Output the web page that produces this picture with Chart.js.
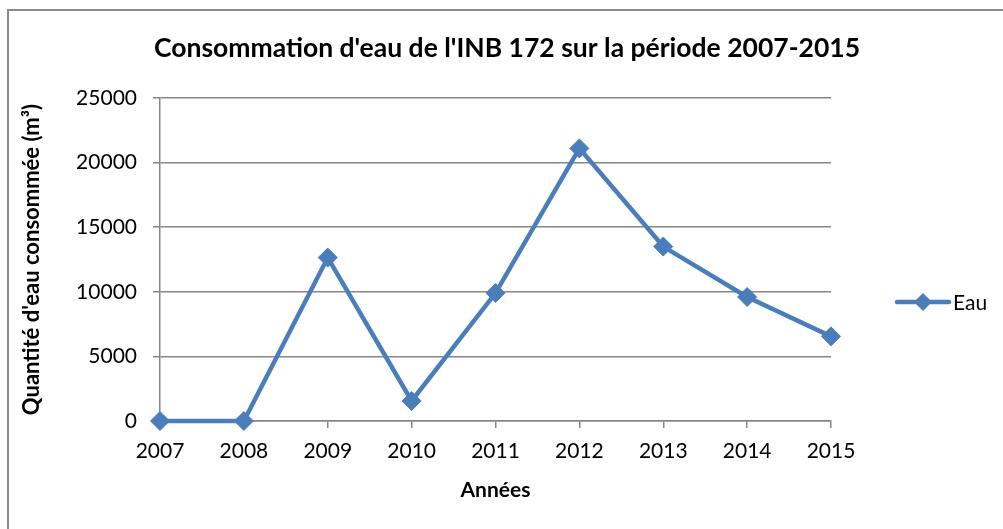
<!DOCTYPE html>
<html>
<head>
<meta charset="utf-8">
<script src="https://cdn.jsdelivr.net/npm/chart.js@4"></script>
<style>
  html, body { margin: 0; padding: 0; background: #fff; }
  #wrap { width: 1003px; height: 529px; position: relative; }
</style>
</head>
<body>
<div id="wrap"><canvas id="chart"></canvas></div>
<script>
const years = ['2007', '2008', '2009', '2010', '2011', '2012', '2013', '2014', '2015'];
const eau = [0, 0, 12650, 1550, 9900, 21100, 13500, 9600, 6550];
const yTicks = [0, 5000, 10000, 15000, 20000, 25000];

const titleText = "Consommation d'eau de l'INB 172 sur la période 2007-2015";
const yTitle = "Quantité d'eau consommée (m³)";
const xTitle = 'Années';
const seriesName = 'Eau';

const blue = '#4A7EBB';
const grey = '#868686';
const fontFamily = 'Lato, "Open Sans", sans-serif';

// white background, frame and the chart title (centred on the whole frame)
const framePlugin = {
    id: 'frame',
    beforeDraw(chart) {
        const ctx = chart.ctx;
        ctx.save();
        ctx.fillStyle = '#fff';
        ctx.fillRect(0, 0, chart.width, chart.height);
        ctx.strokeStyle = '#8a8a8a';
        ctx.lineWidth = 2;
        ctx.strokeRect(8, 10, chart.width + 20, chart.height + 20);
        ctx.fillStyle = '#000';
        ctx.font = 'bold 26.5px ' + fontFamily;
        ctx.textAlign = 'center';
        ctx.textBaseline = 'middle';
        ctx.fillText(titleText, 507, 48);
        ctx.restore();
    }
};

// legend on the right: line with a diamond, then the name
const legendPlugin = {
    id: 'sideLegend',
    afterDraw(chart) {
        const ctx = chart.ctx;
        const ds = chart.data.datasets[0];
        const y = 302;
        ctx.save();
        ctx.strokeStyle = ds.borderColor;
        ctx.lineWidth = ds.borderWidth;
        ctx.lineCap = 'round';
        ctx.beginPath();
        ctx.moveTo(897, y);
        ctx.lineTo(949, y);
        ctx.stroke();
        ctx.fillStyle = ds.pointBackgroundColor;
        const r = 9;
        ctx.beginPath();
        ctx.moveTo(923 - r, y);
        ctx.lineTo(923, y - r);
        ctx.lineTo(923 + r, y);
        ctx.lineTo(923, y + r);
        ctx.closePath();
        ctx.fill();
        ctx.fillStyle = '#000';
        ctx.font = '21px ' + fontFamily;
        ctx.textAlign = 'left';
        ctx.textBaseline = 'middle';
        ctx.fillText(ds.label, 953, y + 1);
        ctx.restore();
    }
};

new Chart(document.getElementById('chart'), {
    type: 'line',
    data: {
        labels: years,
        datasets: [{
            label: seriesName,
            data: eau,
            borderColor: blue,
            backgroundColor: blue,
            borderWidth: 4.5,
            pointStyle: 'rectRot',
            pointRadius: 9.5,
            pointHoverRadius: 9.5,
            pointBackgroundColor: blue,
            pointBorderColor: blue,
            pointBorderWidth: 1,
            tension: 0,
            clip: false
        }]
    },
    options: {
        responsive: true,
        maintainAspectRatio: false,
        animation: false,
        layout: {
            padding: { left: 0, right: 172, top: 98, bottom: 0 }
        },
        plugins: {
            legend: { display: false },
            tooltip: { enabled: false },
            title: { display: false }
        },
        scales: {
            x: {
                offset: false,
                afterFit(scale) { scale.height = 108; },
                border: { display: true, color: grey, width: 1.5 },
                grid: {
                    drawOnChartArea: false,
                    drawTicks: true,
                    tickLength: 7,
                    color: grey,
                    lineWidth: 1.5
                },
                ticks: {
                    color: '#000',
                    padding: 11,
                    maxRotation: 0,
                    font: { family: fontFamily, size: 21 }
                },
                title: {
                    display: true,
                    text: xTitle,
                    color: '#000',
                    font: { family: fontFamily, size: 21, weight: 'bold' },
                    padding: { top: 0, bottom: 26 }
                }
            },
            y: {
                min: 0,
                max: 25000,
                afterFit(scale) { scale.width = 160; },
                afterBuildTicks(scale) {
                    scale.ticks = yTicks.map(v => ({ value: v }));
                },
                border: { display: true, color: grey, width: 1.5 },
                grid: {
                    color: grey,
                    lineWidth: 1.5,
                    drawTicks: true,
                    tickLength: 7
                },
                ticks: {
                    color: '#000',
                    padding: 16,
                    font: { family: fontFamily, size: 21 },
                    callback: value => String(value)
                },
                title: {
                    display: true,
                    text: yTitle,
                    color: '#000',
                    font: { family: fontFamily, size: 22, weight: 'bold' },
                    padding: { top: 19, bottom: 0 }
                }
            }
        }
    },
    plugins: [framePlugin, legendPlugin]
});
</script>
</body>
</html>
